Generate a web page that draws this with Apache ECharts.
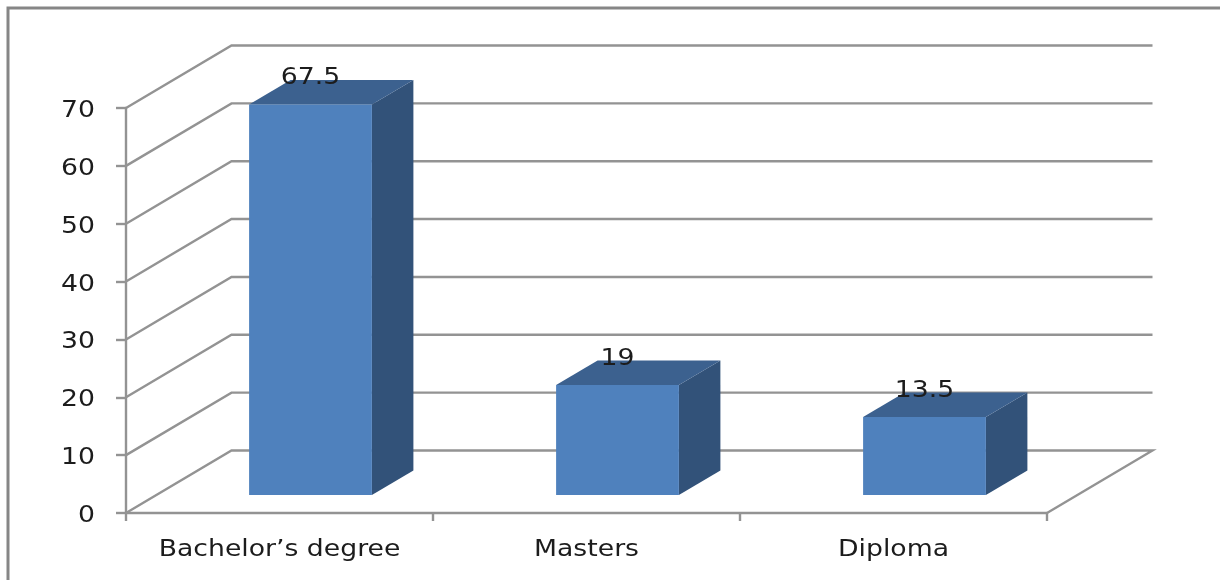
<!DOCTYPE html>
<html>
<head>
<meta charset="utf-8">
<style>html,body{margin:0;padding:0;background:#fff}#chart{width:1220px;height:580px}</style>
<script src="https://cdn.jsdelivr.net/npm/echarts@6/dist/echarts.min.js"></script>
</head>
<body>
<div id="chart"></div>
<script>
const categories = ['Bachelor\u2019s degree', 'Masters', 'Diploma'];
const percentages = [67.5, 19, 13.5];
const gridValues = [0, 10, 20, 30, 40, 50, 60, 70];

// Oblique projection of the 3D look, in pixels
const wallDepth = [105.5, -62.5];
const barDepth = [41.5, -24.5];
const barShift = [31, -18];
const barWidthRatio = 0.4;

const lineColor = '#939393';
const lineWidth = 2.4;
const textColor = '#1c1c1c';
const fontFamily = '"DejaVu Sans", sans-serif';
const fontSize = 23;
const textStretch = 1.16; // labels are drawn slightly wider than the font's natural width

function stretchedText(x, y, text, align) {
  return {
    type: 'text',
    x: x,
    y: y,
    scaleX: textStretch,
    z2: 10,
    style: {
      x: 0,
      y: 0,
      text: text,
      fill: textColor,
      font: fontSize + 'px ' + fontFamily,
      align: align,
      verticalAlign: 'middle'
    }
  };
}

function renderWall(params, api) {
  const v = api.value(1);
  const band = api.size([1, 0])[0];
  const p = api.coord([0, v]);
  const left = p[0] - band / 2;
  const right = left + band * categories.length;
  const y = p[1];
  const pts = [[left, y], [left + wallDepth[0], y + wallDepth[1]], [right + wallDepth[0], y + wallDepth[1]]];
  if (v === 0) pts.push([right, y]);
  return {
    type: 'group',
    children: [
      {
        type: 'polyline',
        shape: { points: pts },
        style: { stroke: lineColor, lineWidth: lineWidth, fill: null }
      },
      stretchedText(left - 31, y + 3, String(v), 'right')
    ]
  };
}

function renderBar(params, api) {
  const idx = api.value(0);
  const v = api.value(1);
  const band = api.size([1, 0])[0];
  const base = api.coord([idx, 0]);
  const top = api.coord([idx, v]);
  const w = band * barWidthRatio;
  const x0 = base[0] + barShift[0] - w / 2;
  const x1 = x0 + w;
  const y0 = base[1] + barShift[1];
  const y1 = top[1] + barShift[1];
  const dx = barDepth[0];
  const dy = barDepth[1];
  return {
    type: 'group',
    children: [
      { type: 'polygon', shape: { points: [[x1, y1], [x1 + dx, y1 + dy], [x1 + dx, y0 + dy], [x1, y0]] }, style: { fill: '#325279' } },
      { type: 'polygon', shape: { points: [[x0, y1], [x0 + dx, y1 + dy], [x1 + dx, y1 + dy], [x1, y1]] }, style: { fill: '#3c618f' } },
      { type: 'rect', shape: { x: x0, y: y1, width: w, height: y0 - y1 }, style: { fill: '#4f81bd' } },
      stretchedText((x0 + x1) / 2, y1 - 26, String(v), 'center'),
      stretchedText(base[0], base[1] + 37, categories[idx], 'center')
    ]
  };
}

const chart = echarts.init(document.getElementById('chart'), null, { renderer: 'canvas' });
chart.setOption({
  animation: false,
  backgroundColor: '#ffffff',
  graphic: [{
    type: 'polyline',
    silent: true,
    shape: { points: [[8, 580], [8, 8], [1220, 8]] },
    style: { stroke: '#868686', lineWidth: 3, fill: null }
  }],
  grid: { left: 126, right: 173, top: 108, bottom: 67 },
  xAxis: {
    type: 'category',
    data: categories,
    axisLine: { lineStyle: { color: lineColor, width: lineWidth } },
    axisTick: { show: true, alignWithLabel: false, length: 8, lineStyle: { color: lineColor, width: lineWidth } },
    axisLabel: { show: false }
  },
  yAxis: {
    type: 'value',
    min: 0,
    max: 70,
    interval: 10,
    splitLine: { show: false },
    axisLine: { show: true, lineStyle: { color: lineColor, width: lineWidth } },
    axisTick: { show: true, length: 10, lineStyle: { color: lineColor, width: lineWidth } },
    axisLabel: { show: false }
  },
  series: [
    {
      type: 'custom',
      name: 'Gridlines',
      renderItem: renderWall,
      data: gridValues.map(v => [0, v]),
      silent: true,
      z: 1
    },
    {
      type: 'custom',
      name: 'Percentage',
      renderItem: renderBar,
      data: percentages.map((v, i) => [i, v]),
      z: 3
    }
  ]
});
</script>
</body>
</html>
